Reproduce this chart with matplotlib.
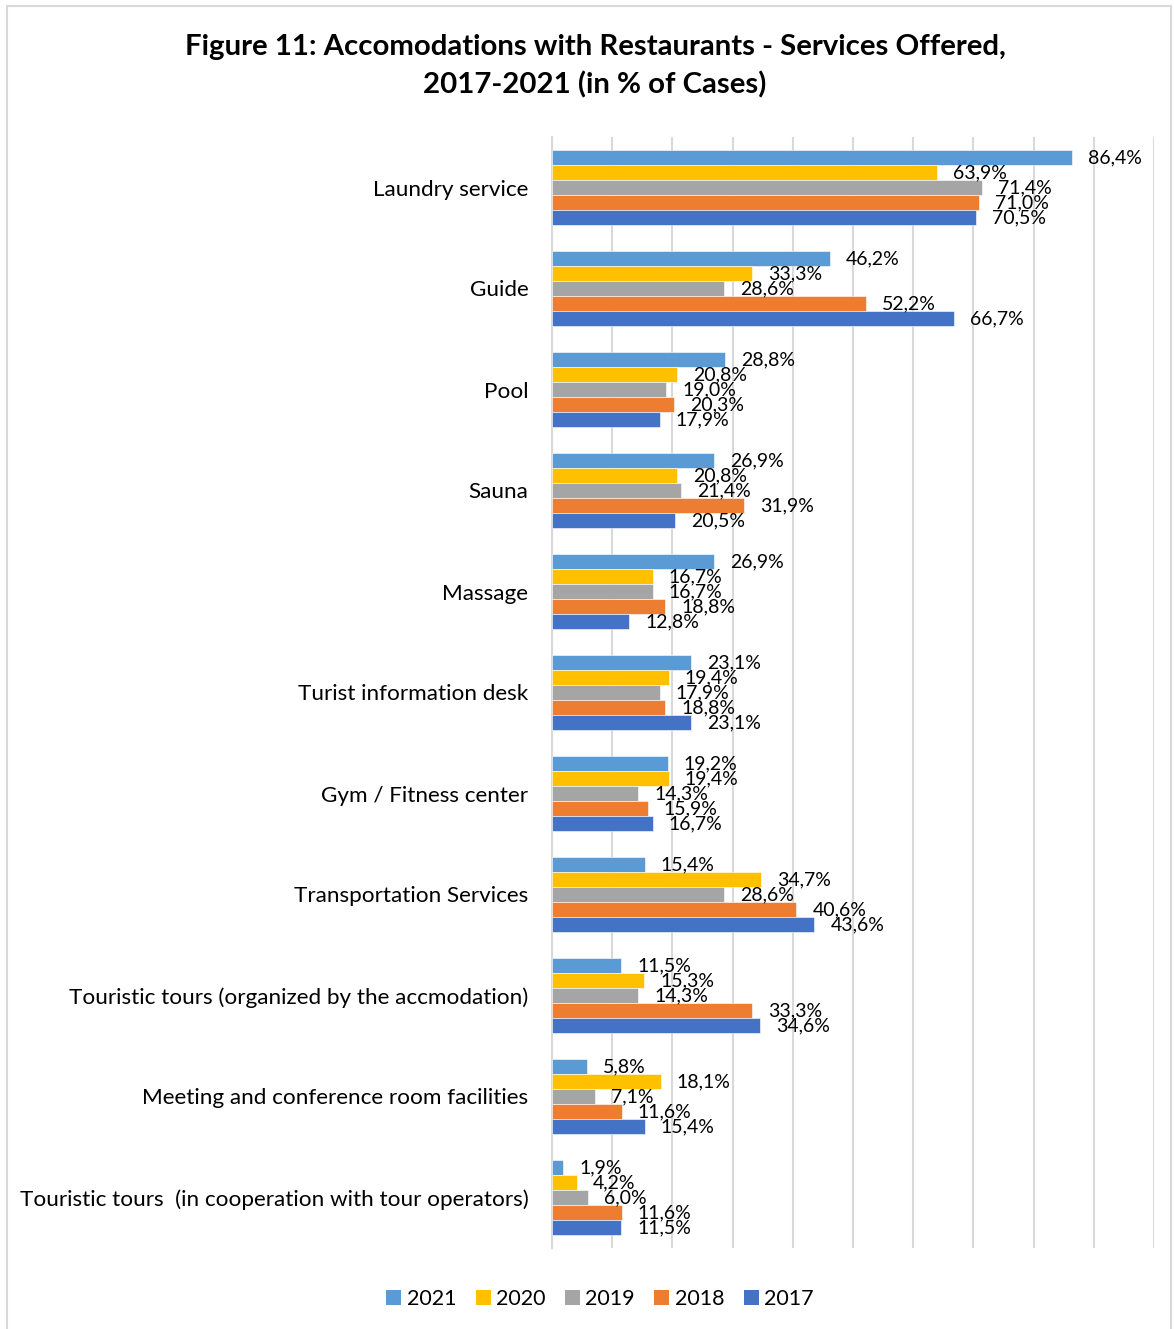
import numpy as np
import matplotlib.pyplot as plt
from matplotlib.patches import Patch
from matplotlib.lines import Line2D

plt.rcParams['font.family'] = ['Lato', 'DejaVu Sans']

# Categories, top to bottom as in the figure
categories = [
    "Laundry service",
    "Guide",
    "Pool",
    "Sauna",
    "Massage",
    "Turist information desk",
    "Gym / Fitness center",
    "Transportation Services",
    "Touristic tours (organized by the accmodation)",
    "Meeting and conference room facilities",
    "Touristic tours  (in cooperation with tour operators)",
]

years = ["2021", "2020", "2019", "2018", "2017"]

v2021 = [86.4, 46.2, 28.8, 26.9, 26.9, 23.1, 19.2, 15.4, 11.5, 5.8, 1.9]
v2020 = [63.9, 33.3, 20.8, 20.8, 16.7, 19.4, 19.4, 34.7, 15.3, 18.1, 4.2]
v2019 = [71.4, 28.6, 19.0, 21.4, 16.7, 17.9, 14.3, 28.6, 14.3, 7.1, 6.0]
v2018 = [71.0, 52.2, 20.3, 31.9, 18.8, 18.8, 15.9, 40.6, 33.3, 11.6, 11.6]
v2017 = [70.5, 66.7, 17.9, 20.5, 12.8, 23.1, 16.7, 43.6, 34.6, 15.4, 11.5]

series = [v2021, v2020, v2019, v2018, v2017]
colors = ['#5B9BD5', '#FFC000', '#A5A5A5', '#ED7D31', '#4472C4']

W, H = 1174, 1329
fig = plt.figure(figsize=(W / 100, H / 100), dpi=100)
ax = fig.add_axes([552 / W, 1 - 1248 / H, (1154 - 552) / W, (1248 - 137) / H])

y = np.arange(len(categories))
h = 0.148
for i, (vals, c, yr) in enumerate(zip(series, colors, years)):
    pos = y + (i - 2) * h
    bars = ax.barh(pos, vals, height=h, color=c, edgecolor='white', linewidth=0.4, label=yr, zorder=3)
    for b, v in zip(bars, vals):
        ax.annotate(f"{v:.1f}%".replace('.', ','),
                    xy=(b.get_width(), b.get_y() + b.get_height() / 2),
                    xytext=(11.5, 0), textcoords='offset points',
                    va='center', ha='left', fontsize=14, color='#000000', zorder=4)

ax.set_xlim(0, 100)
ax.set_ylim(len(categories) - 0.5, -0.5)
ax.set_xticks(np.arange(0, 101, 10))
ax.set_xticklabels([])
ax.tick_params(axis='x', length=0)
ax.tick_params(axis='y', length=0, pad=17, labelsize=16.2)
ax.set_yticks(y)
ax.set_yticklabels(categories)
ax.grid(axis='x', color='#D9D9D9', linewidth=1.5, zorder=0)
for s in ['top', 'right', 'bottom']:
    ax.spines[s].set_visible(False)
ax.spines['left'].set_color('#D9D9D9')
ax.spines['left'].set_linewidth(1.5)

fig.text(595 / W, 1 - 47 / H, "Figure 11: Accomodations with Restaurants - Services Offered,",
         ha='center', va='center', fontsize=21.2, fontweight='bold')
fig.text(595 / W, 1 - 85 / H, "2017-2021 (in % of Cases)",
         ha='center', va='center', fontsize=21.2, fontweight='bold')

handles = [Patch(facecolor=c, edgecolor='none') for c in colors]
fig.legend(handles, years, loc='center', bbox_to_anchor=(600 / W, 1 - 1299 / H),
           ncol=5, frameon=False, fontsize=15.5, handlelength=0.7, handleheight=0.7,
           handletextpad=0.25, columnspacing=0.9)

# light frame around the chart area
frame_color = '#D9D9D9'
fig.add_artist(Line2D([7 / W, 7 / W], [0, 1 - 6 / H], color=frame_color, lw=1.5))
fig.add_artist(Line2D([7 / W, 1171 / W], [1 - 6 / H, 1 - 6 / H], color=frame_color, lw=1.5))
fig.add_artist(Line2D([1171 / W, 1171 / W], [0, 1 - 6 / H], color=frame_color, lw=1.5))

fig.savefig("out.png", dpi=100)
